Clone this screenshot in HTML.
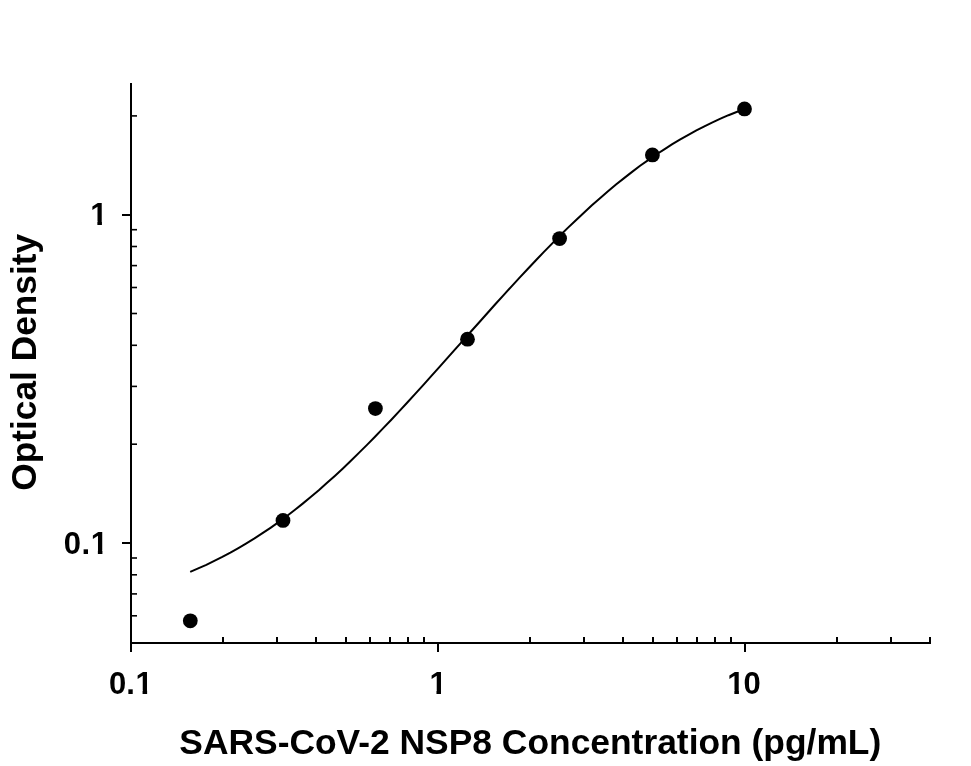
<!DOCTYPE html>
<html><head><meta charset="utf-8"><title>Standard Curve</title>
<style>
html,body{margin:0;padding:0;background:#fff;}
body{width:971px;height:766px;overflow:hidden;}
svg{display:block;}
text{font-family:"Liberation Sans",Arial,sans-serif;font-weight:bold;fill:#000;}
</style></head><body>
<svg width="971" height="766" viewBox="0 0 971 766">
<rect width="971" height="766" fill="#fff"/>

<g fill="#000" shape-rendering="crispEdges">
<rect x="130" y="83" width="2" height="569"/>
<rect x="130" y="642" width="801" height="2"/>
<rect x="130" y="642" width="2" height="9.5"/>
<rect x="222" y="637" width="2" height="6"/>
<rect x="276" y="637" width="2" height="6"/>
<rect x="315" y="637" width="2" height="6"/>
<rect x="345" y="637" width="2" height="6"/>
<rect x="369" y="637" width="2" height="6"/>
<rect x="389" y="637" width="2" height="6"/>
<rect x="407" y="637" width="2" height="6"/>
<rect x="423" y="637" width="2" height="6"/>
<rect x="437" y="642" width="2" height="9.5"/>
<rect x="529" y="637" width="2" height="6"/>
<rect x="583" y="637" width="2" height="6"/>
<rect x="622" y="637" width="2" height="6"/>
<rect x="652" y="637" width="2" height="6"/>
<rect x="676" y="637" width="2" height="6"/>
<rect x="696" y="637" width="2" height="6"/>
<rect x="714" y="637" width="2" height="6"/>
<rect x="730" y="637" width="2" height="6"/>
<rect x="744" y="642" width="2" height="9.5"/>
<rect x="836" y="637" width="2" height="6"/>
<rect x="890" y="637" width="2" height="6"/>
<rect x="929" y="637" width="2" height="6"/>
<rect x="122" y="542" width="9" height="2"/>
<rect x="122" y="214" width="9" height="2"/>
</g>
<g fill="#000"><rect x="131" y="615.0" width="6" height="1.6"/><rect x="131" y="593.1" width="6" height="1.6"/><rect x="131" y="574.0" width="6" height="1.6"/><rect x="131" y="557.2" width="6" height="1.6"/><rect x="131" y="443.4" width="6" height="1.6"/><rect x="131" y="385.6" width="6" height="1.6"/><rect x="131" y="344.5" width="6" height="1.6"/><rect x="131" y="312.7" width="6" height="1.6"/><rect x="131" y="286.7" width="6" height="1.6"/><rect x="131" y="264.8" width="6" height="1.6"/><rect x="131" y="245.7" width="6" height="1.6"/><rect x="131" y="228.9" width="6" height="1.6"/><rect x="131" y="115.1" width="6" height="1.6"/></g>
<polyline points="190.2,571.8 198.2,568.4 206.3,564.8 214.3,560.9 222.3,556.9 230.4,552.6 238.4,548.1 246.4,543.4 254.5,538.4 262.5,533.2 270.5,527.8 278.6,522.1 286.6,516.2 294.7,510.0 302.7,503.6 310.7,497.0 318.8,490.2 326.8,483.1 334.8,475.9 342.9,468.4 350.9,460.8 358.9,452.9 367.0,444.9 375.0,436.7 383.0,428.4 391.1,420.0 399.1,411.4 407.1,402.7 415.2,393.9 423.2,385.1 431.2,376.2 439.3,367.2 447.3,358.2 455.3,349.1 463.4,340.1 471.4,331.0 479.5,322.0 487.5,313.0 495.5,304.0 503.6,295.1 511.6,286.3 519.6,277.6 527.7,269.0 535.7,260.5 543.7,252.1 551.8,243.9 559.8,235.8 567.8,227.9 575.9,220.2 583.9,212.7 591.9,205.3 600.0,198.2 608.0,191.3 616.0,184.6 624.1,178.1 632.1,171.9 640.1,165.8 648.2,160.1 656.2,154.5 664.3,149.3 672.3,144.2 680.3,139.4 688.4,134.8 696.4,130.4 704.4,126.3 712.5,122.4 720.5,118.7 728.5,115.2 736.6,112.0 744.6,108.9" fill="none" stroke="#000" stroke-width="2" stroke-linecap="butt" stroke-linejoin="round"/>
<circle cx="190.3" cy="620.8" r="7.4" fill="#000"/>
<circle cx="283.0" cy="520.4" r="7.4" fill="#000"/>
<circle cx="375.4" cy="408.6" r="7.4" fill="#000"/>
<circle cx="467.5" cy="339.2" r="7.4" fill="#000"/>
<circle cx="559.6" cy="238.6" r="7.4" fill="#000"/>
<circle cx="652.4" cy="154.9" r="7.4" fill="#000"/>
<circle cx="744.5" cy="108.9" r="7.4" fill="#000"/>
<defs><clipPath id="c0"><path clip-rule="evenodd" d="M75.5 663.5H175.5V699.5H75.5ZM135.50 690.09H142.57V695.0H135.50ZM147.12 690.09H153.48V695.0H147.12Z"/></clipPath><clipPath id="c1"><path clip-rule="evenodd" d="M369.4 663.5H469.4V699.5H369.4ZM429.40 690.09H436.47V695.0H429.40ZM441.02 690.09H447.38V695.0H441.02Z"/></clipPath><clipPath id="c2"><path clip-rule="evenodd" d="M667.3 663.5H767.3V699.5H667.3ZM727.30 690.09H734.37V695.0H727.30ZM738.92 690.09H745.28V695.0H738.92Z"/></clipPath><clipPath id="c3"><path clip-rule="evenodd" d="M30.3 194.5H130.3V230.5H30.3ZM90.30 221.09H97.37V226.0H90.30ZM101.92 221.09H108.28V226.0H101.92Z"/></clipPath><clipPath id="c4"><path clip-rule="evenodd" d="M30.8 523.5H130.8V559.5H30.8ZM90.80 550.09H97.87V555.0H90.80ZM102.42 550.09H108.78V555.0H102.42Z"/></clipPath></defs>
<g font-size="31">
<text clip-path="url(#c0)" x="108.9 126.2 135.5" y="693.5">0.1</text>
<text clip-path="url(#c1)" x="429.4" y="693.5">1</text>
<text clip-path="url(#c2)" x="727.3 743.4" y="693.5">10</text>
<text clip-path="url(#c3)" x="90.3" y="224.5">1</text>
<text clip-path="url(#c4)" x="63.8 81.6 90.8" y="553.5">0.1</text>
</g>
<text transform="translate(530.3 753.7) scale(1 1.008)" font-size="35.4" text-anchor="middle">SARS-CoV-2 NSP8 Concentration (pg/mL)</text>
<text transform="translate(36 362.3) rotate(-90) scale(1 0.99)" font-size="35.28" text-anchor="middle">Optical Density</text>
</svg></body></html>
